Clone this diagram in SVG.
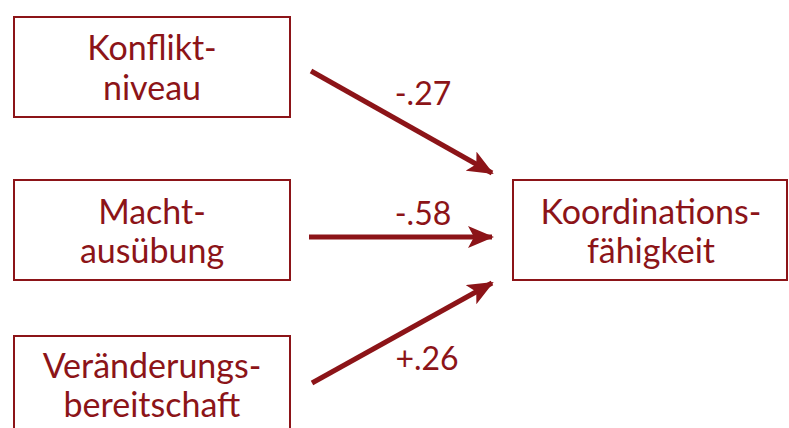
<svg xmlns="http://www.w3.org/2000/svg" width="789" height="428" viewBox="0 0 789 428">
  <style>
    .box { fill: #ffffff; stroke: #8c1418; stroke-width: 2; }
    .lbl { font-family: Lato, "Open Sans", "Liberation Sans", sans-serif; font-size: 34px; fill: #8c1418; text-anchor: middle; }
    .coef { font-family: Lato, "Open Sans", "Liberation Sans", sans-serif; font-size: 32px; fill: #8c1418; text-anchor: middle; }
    .edge { stroke: #8c1418; stroke-width: 5; fill: none; marker-end: url(#head); }
  </style>
  <defs>
    <marker id="head" markerUnits="userSpaceOnUse" viewBox="0 0 26 22" refX="24" refY="11" markerWidth="26" markerHeight="22" orient="auto">
      <path d="M0,0 L26,11 L0,22 L6,11 Z" fill="#8c1418"/>
    </marker>
  </defs>
  <rect width="789" height="428" fill="#ffffff"/>

  <g id="konfliktniveau">
    <rect class="box" x="14" y="17" width="276" height="100"/>
    <text class="lbl" x="152" y="60">Konflikt-</text>
    <text class="lbl" x="152" y="100">niveau</text>
  </g>

  <g id="machtausuebung">
    <rect class="box" x="14" y="180" width="276" height="100"/>
    <text class="lbl" x="152" y="224">Macht-</text>
    <text class="lbl" x="152" y="263">ausübung</text>
  </g>

  <g id="veraenderungsbereitschaft">
    <rect class="box" x="14" y="336" width="276" height="100"/>
    <text class="lbl" x="152" y="378">Veränderungs-</text>
    <text class="lbl" x="152" y="417">bereitschaft</text>
  </g>

  <g id="koordinationsfaehigkeit">
    <rect class="box" x="513" y="180" width="274" height="100"/>
    <text class="lbl" x="651" y="224">Koordinations-</text>
    <text class="lbl" x="651" y="263">fähigkeit</text>
  </g>

  <g id="connectors">
    <line class="edge" x1="311" y1="71" x2="492" y2="173"/>
    <line class="edge" x1="309" y1="237" x2="492" y2="237"/>
    <line class="edge" x1="312" y1="383" x2="492" y2="283"/>
    <text class="coef" x="423" y="105">-.27</text>
    <text class="coef" x="423" y="225">-.58</text>
    <text class="coef" x="427" y="370">+.26</text>
  </g>
</svg>
